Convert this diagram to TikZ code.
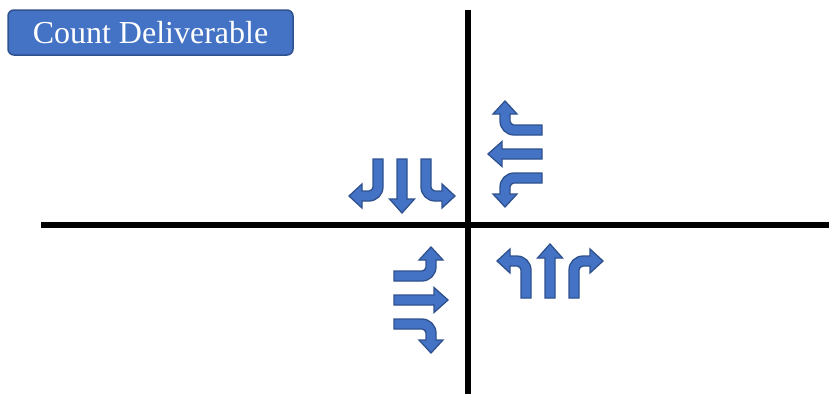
\documentclass[tikz,border=0pt]{standalone}
\usepackage{fontspec}
\setmainfont{Liberation Serif}
\usetikzlibrary{positioning}

\definecolor{arrowblue}{HTML}{4472C4}
\definecolor{arrowedge}{HTML}{2F528F}

\tikzset{
  blockarrow/.style={fill=arrowblue, draw=arrowedge, line width=1.3pt, line join=miter},
  axisline/.style={line width=6pt, black},
  titlebox/.style={fill=arrowblue, draw=arrowedge, line width=1.5pt, rounded corners=6pt,
    minimum width=285pt, minimum height=45pt, inner sep=0pt, text=white,
    font=\fontsize{32}{36}\selectfont}
}

% turning lane arrow: stem at x=-24, head pointing left
\newcommand{\turnarrow}{%
  \path[blockarrow] (-19,0) -- (-19,-28)
    .. controls (-19,-35.73) and (-25.27,-42) .. (-33,-42)
    -- (-40,-42) -- (-40,-49) -- (-53,-37) -- (-40,-25) -- (-40,-32) -- (-33,-32)
    .. controls (-30.79,-32) and (-29,-29.79) .. (-29,-28)
    -- (-29,0) -- cycle;}

% through lane arrow
\newcommand{\througharrow}{%
  \path[blockarrow] (-5,0) -- (-5,-40) -- (-12.5,-40) -- (0,-54)
    -- (12.5,-40) -- (5,-40) -- (5,0) -- cycle;}

% one approach: left, through, right
\newcommand{\lanegroup}[4]{%
  \begin{scope}[shift={(#2,#3)}, rotate=#4]
    \coordinate (#1) at (0,0);
    \turnarrow
    \througharrow
    \begin{scope}[xscale=-1]\turnarrow\end{scope}
  \end{scope}}

\begin{document}
\begin{tikzpicture}[x=1pt, y=-1pt]
  \useasboundingbox (0,0) rectangle (829,394);

  \node[titlebox] (title) at (150.5,32.5) {Count Deliverable};

  \draw[axisline] (468,10) -- (468,394);
  \draw[axisline] (41,225) -- (829,225);

  \lanegroup{nb}{550}{298}{0}
  \lanegroup{sb}{402}{159}{180}
  \lanegroup{wb}{542}{154}{90}
  \lanegroup{eb}{394}{300}{-90}
\end{tikzpicture}
\end{document}
